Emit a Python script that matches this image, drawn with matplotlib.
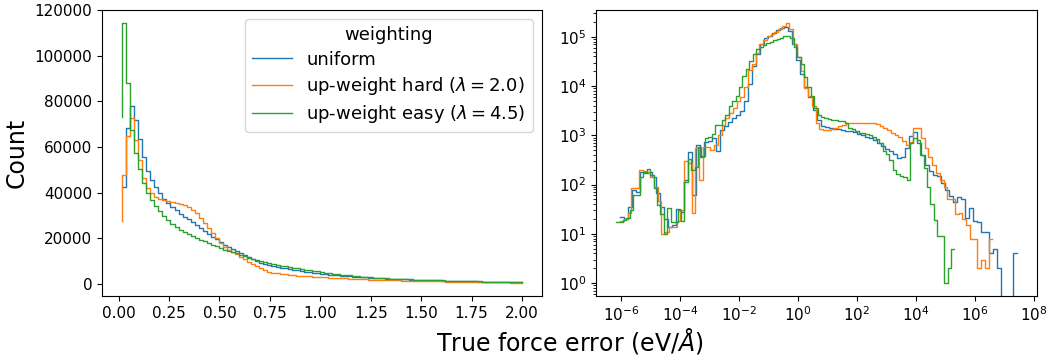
import numpy as np
import matplotlib
matplotlib.use("Agg")
import matplotlib.pyplot as plt
from matplotlib.ticker import NullLocator, FixedLocator, LogFormatterSciNotation

# ---------------- data ----------------
series_labels = ["uniform",
                 r"up-weight hard ($\lambda = 2.0$)",
                 r"up-weight easy ($\lambda = 4.5$)"]
series_colors = ["#1f77b4", "#ff7f0e", "#2ca02c"]

# left panel: linear histogram of true force error, bin edges from 0.017 to 2.0
left_range = (0.017, 2.0)
left_uniform = [
    42600, 42600, 68200, 78100, 71800, 63400, 55500, 49600, 45600, 42600,
    39700, 37200, 35600, 33900, 32400, 30700, 29500, 28300, 27000, 25800,
    24400, 23400, 21900, 20700, 19600, 18500, 17100, 16100, 15200, 14400,
    13500, 12600, 11700, 10900, 10100, 9400, 8700, 8200, 7800, 7400,
    7100, 6800, 6500, 6200, 5950, 5700, 5450, 5200, 5000, 4750,
    4550, 4350, 4150, 3950, 3800, 3650, 3500, 3350, 3200, 3100,
    2950, 2850, 2750, 2650, 2550, 2450, 2380, 2300, 2230, 2160,
    2090, 2020, 1960, 1900, 1840, 1780, 1720, 1660, 1610, 1560,
    1510, 1460, 1410, 1360, 1310, 1260, 1210, 1160, 1110, 1060,
    1020, 980, 940, 900, 860, 820, 780, 740, 700, 660]
left_hard = [
    27700, 47700, 64800, 72600, 63100, 54500, 46300, 41900, 40000, 38200,
    37100, 36800, 36500, 36100, 35300, 35000, 34600, 33600, 32400, 31000,
    28800, 26600, 24400, 22500, 20300, 17800, 16100, 14900, 14200, 13000,
    11900, 10800, 9800, 8700, 7700, 6800, 6000, 5400, 5000, 4700,
    4450, 4250, 4050, 3850, 3700, 3550, 3400, 3300, 3200, 3100,
    3000, 2900, 2800, 2700, 2600, 2500, 2420, 2340, 2260, 2180,
    2100, 2030, 1960, 1890, 1830, 1770, 1720, 1670, 1620, 1570,
    1520, 1480, 1440, 1400, 1360, 1320, 1280, 1240, 1200, 1160,
    1120, 1090, 1060, 1030, 1000, 970, 940, 910, 880, 850,
    820, 790, 760, 730, 700, 680, 660, 640, 620, 600]
left_easy = [
    73000, 114200, 87900, 67400, 57500, 50500, 44400, 39800, 36600, 34000,
    31800, 29600, 27900, 26400, 25000, 23800, 22800, 21700, 20900, 20000,
    19400, 18700, 18000, 17200, 16500, 15800, 15000, 14600, 13900, 13400,
    12800, 12200, 11600, 11100, 10500, 10000, 9500, 9100, 8700, 8400,
    8000, 7700, 7400, 7100, 6900, 6600, 6300, 6000, 5800, 5500,
    5200, 5000, 4700, 4400, 4250, 4100, 3900, 3750, 3600, 3400,
    3250, 3100, 2950, 2800, 2600, 2500, 2430, 2360, 2290, 2220,
    2150, 2080, 2010, 1950, 1890, 1830, 1770, 1710, 1650, 1600,
    1550, 1500, 1450, 1400, 1350, 1300, 1250, 1200, 1150, 1100,
    1050, 1000, 960, 920, 880, 840, 800, 760, 720, 680]

# right panel: log-spaced histograms, each series over its own range (log10 of error)
right_range_uniform = (-6.03, 7.42)
right_range_hard = (-6.03, 6.59)
right_range_easy = (-6.17, 5.30)
right_uniform = [
    22, 22, 20, 35, 78, 72, 180, 170, 180, 145,
    68, 35, 20, 14, 15, 32, 28, 126, 450, 62,
    650, 370, 740, 760, 890, 470, 1290, 1510, 1860, 2240,
    2630, 3160, 5000, 11200, 25100, 44700, 70800, 93300, 105000, 120000,
    135000, 148000, 162000, 132000, 70800, 33100, 17800, 9550, 6030, 3310,
    2000, 1510, 1450, 1410, 1350, 1320, 1260, 1230, 1200, 1150,
    1070, 1000, 930, 870, 790, 710, 600, 525, 480, 420,
    350, 355, 550, 980, 1150, 710, 400, 250, 190, 158,
    148, 107, 78, 58, 44, 55, 50, 21, 33, 18,
    17, 11, 11, 4, 5, 2, 0, 0, 0, 4]
right_hard = [
    18, 18, 20, 27, 85, 85, 195, 186, 182, 145,
    91, 46, 10, 11, 14, 14, 18, 31, 295, 280,
    27, 550, 126, 590, 590, 500, 630, 1020, 1620, 2240,
    2820, 3550, 5010, 6030, 9770, 21400, 28200, 47900, 72400, 85100,
    102000, 115000, 126000, 141000, 166000, 191000, 141000, 70800, 39800, 20000,
    9120, 6310, 3980, 1780, 1350, 1290, 1290, 1320, 1410, 1580,
    1620, 1740, 1820, 1820, 1780, 1820, 1780, 1780, 1740, 1660,
    1510, 1410, 1260, 1100, 1020, 930, 780, 650, 740, 1410,
    1410, 870, 550, 355, 250, 170, 126, 91, 52, 50,
    25, 26, 20, 15, 8, 8, 2, 3, 2, 8]
right_easy = [
    17, 17, 17, 19, 21, 31, 62, 62, 145, 182,
    204, 158, 85, 39, 25, 10, 33, 17, 17, 31,
    18, 115, 331, 200, 224, 575, 372, 871, 912, 1050,
    1620, 1620, 2000, 2630, 3980, 4900, 6310, 9770, 15800, 22400,
    31600, 45700, 56200, 63100, 69200, 74100, 79400, 85100, 91200, 95500,
    105000, 105000, 95500, 63100, 39800, 28200, 15500, 9550, 6310, 3550,
    2630, 2400, 2290, 2190, 2090, 2000, 1950, 1910, 1740, 1410,
    1320, 1200, 1120, 1100, 1050, 1000, 930, 850, 710, 470,
    420, 316, 200, 166, 151, 145, 126, 690, 871, 794,
    398, 214, 89, 40, 19, 9, 9, 1, 2, 5]

# ---------------- figure ----------------
fig = plt.figure(figsize=(10.47, 3.56), dpi=100)
axL = fig.add_axes([0.0974, 0.1685, 0.4203, 0.8034])
axR = fig.add_axes([0.5692, 0.1685, 0.4212, 0.8034])

lw = 1.0
left_sets = [left_uniform, left_hard, left_easy]
for vals, lab, col in zip(left_sets, series_labels, series_colors):
    edges = np.linspace(left_range[0], left_range[1], len(vals))
    axL.step(edges, vals, where="pre", color=col, lw=lw, label=lab)

right_sets = [(right_uniform, right_range_uniform),
              (right_hard, right_range_hard),
              (right_easy, right_range_easy)]
for (vals, rng), col in zip(right_sets, series_colors):
    edges = np.logspace(rng[0], rng[1], len(vals))
    axR.step(edges, vals, where="pre", color=col, lw=lw)

axL.set_ylim(-5260, 120000)

axR.set_xscale("log")
axR.set_yscale("log")
axR.xaxis.set_major_locator(FixedLocator([10.0 ** k for k in range(-6, 9, 2)]))
axR.xaxis.set_major_formatter(LogFormatterSciNotation())
axR.xaxis.set_minor_locator(NullLocator())

tick_fs = 11
for ax in (axL, axR):
    ax.tick_params(labelsize=tick_fs)

axL.set_ylabel("Count", fontsize=17)
leg = axL.legend(title="weighting", fontsize=13, title_fontsize=13,
                 loc="upper right", labelspacing=0.35, handlelength=2.2)

fig.text(0.544, 0.015, r"True force error (eV/$\AA$)", ha="center", va="baseline",
         fontsize=17)

fig.savefig("out.png", dpi=100)
